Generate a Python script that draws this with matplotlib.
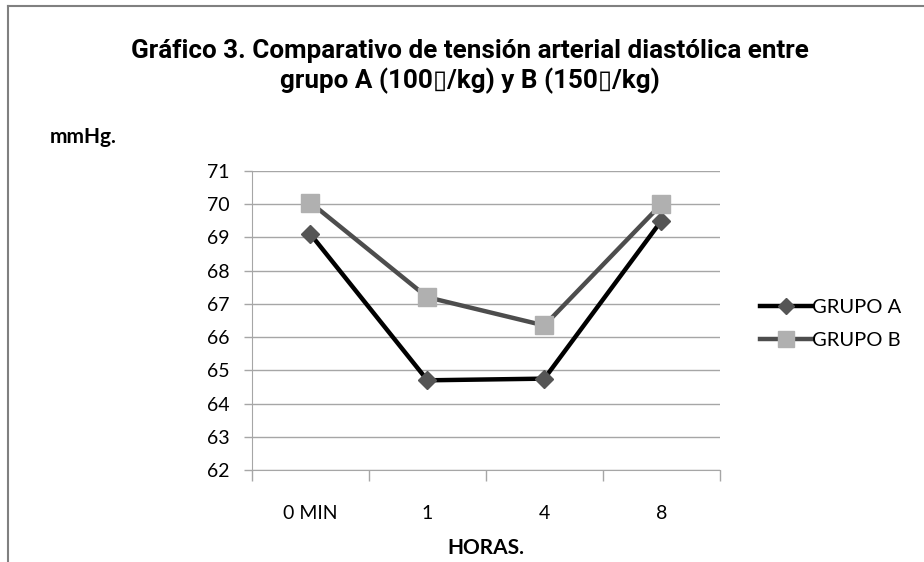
import matplotlib
matplotlib.use("Agg")
import matplotlib.pyplot as plt
from matplotlib.lines import Line2D

# data
categories = ["0 MIN", "1", "4", "8"]
grupo_a = [69.1, 64.7, 64.75, 69.5]
grupo_b = [70.05, 67.2, 66.35, 70.0]
y_ticks = [62, 63, 64, 65, 66, 67, 68, 69, 70, 71]

title = ("Gráfico 3. Comparativo de tensión arterial diastólica entre\n"
         "grupo A (100\u25af/kg) y B (150\u25af/kg)")

body_font = ["Lato", "DejaVu Sans"]
title_font = ["Roboto", "DejaVu Sans"]
grid_col = "#a6a6a6"

fig = plt.figure(figsize=(9.24, 5.62), dpi=100)
ax = fig.add_axes([0.2727, 0.1637, 0.779 - 0.2727, 0.6957 - 0.1637])

x = list(range(len(categories)))
ax.plot(x, grupo_a, color="black", lw=3.2, marker="D", ms=9,
        mfc="#555555", mec="#555555", zorder=3, label="GRUPO A")
ax.plot(x, grupo_b, color="#4d4d4d", lw=3.2, marker="s", ms=13,
        mfc="#b0b0b0", mec="#b0b0b0", zorder=3, label="GRUPO B")

ax.set_xlim(-0.5, len(categories) - 0.5)
ax.set_ylim(62, 71)
ax.set_yticks(y_ticks)
ax.set_yticklabels([str(v) for v in y_ticks], fontfamily=body_font, fontsize=14)
ax.set_xticks(x)
ax.set_xticklabels(categories, fontfamily=body_font, fontsize=14)
ax.set_xticks([i - 0.5 for i in range(len(categories) + 1)], minor=True)
ax.tick_params(axis="x", which="major", length=0, pad=25)
ax.tick_params(axis="x", which="minor", length=8, color=grid_col, width=1)
ax.tick_params(axis="y", length=6, color=grid_col, width=1, pad=10)
ax.yaxis.grid(True, color=grid_col, lw=1)
ax.set_axisbelow(True)
for side in ("top", "right"):
    ax.spines[side].set_visible(False)
for side in ("left", "bottom"):
    ax.spines[side].set_color(grid_col)

ax.set_xlabel("HORAS.", fontfamily=body_font, fontsize=15, fontweight="bold", labelpad=12)
fig.text(0.054, 0.756, "mmHg.", fontfamily=body_font, fontsize=15, fontweight="bold",
         va="center", ha="left")
fig.text(0.509, 0.882, title, fontfamily=title_font, fontsize=18.7, fontweight="bold",
         ha="center", va="center", linespacing=1.22)

handles = [
    Line2D([], [], color="black", lw=3.2, marker="D", ms=8, mfc="#555555", mec="#555555"),
    Line2D([], [], color="#4d4d4d", lw=3.2, marker="s", ms=11, mfc="#b0b0b0", mec="#b0b0b0"),
]
fig.legend(handles, ["GRUPO A", "GRUPO B"], loc="center left",
           bbox_to_anchor=(0.803, 0.424), frameon=False, handlelength=2.6,
           handletextpad=0.0, labelspacing=0.8, prop={"family": body_font, "size": 14.5})

# chart-area border (only left and top edges visible in the crop)
fig.add_artist(Line2D([0.009, 0.009], [0.0, 0.989], color="#808080", lw=1.5))
fig.add_artist(Line2D([0.009, 1.0], [0.989, 0.989], color="#808080", lw=1.5))

fig.savefig("out.png", dpi=100)
